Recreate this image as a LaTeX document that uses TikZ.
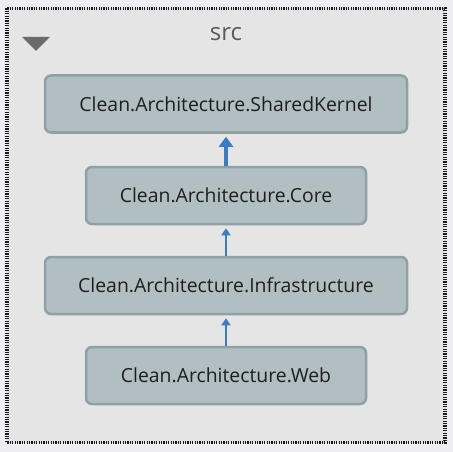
\documentclass[tikz,border=0pt]{standalone}
\usepackage{fontspec}
\setmainfont{Open Sans}
\usetikzlibrary{positioning,arrows.meta}
\definecolor{Canvas}{HTML}{EEEEF2}
\definecolor{GroupFill}{HTML}{E5E5E5}
\definecolor{GroupEdge}{HTML}{1A1A1A}
\definecolor{BoxFill}{HTML}{B1BFC3}
\definecolor{BoxEdge}{HTML}{8FA0A7}
\definecolor{DepBlue}{HTML}{3C7BBF}
\definecolor{Ink}{HTML}{1E1E1E}
\definecolor{Muted}{HTML}{5A5A5A}
\tikzset{
  project node/.style={draw=BoxEdge,line width=2.5pt,fill=BoxFill,rounded corners=6pt,
    align=center,minimum height=57pt,font=\fontsize{19.4}{22}\selectfont,
    text=Ink,inner sep=0pt},
  dep arrow/.style={-{Triangle[width=9pt,length=7pt]},line width=2pt,draw=DepBlue,shorten >=3pt},
  dep arrow strong/.style={dep arrow,-{Triangle[width=14pt,length=10pt]},line width=4pt}
}
\begin{document}
\begin{tikzpicture}[x=1pt,y=-1pt]
  \useasboundingbox (0,0) rectangle (453,452);
  \fill[Canvas] (0,0) rectangle (453,452);
  \draw[GroupEdge,fill=GroupFill,line width=3.5pt,dash pattern=on 1.2pt off 1.2pt] (7,8.5) rectangle (445,442.5);
  \fill[Muted!90] (22,37) -- (50,37) -- (36,51) -- cycle;
  \node[font=\fontsize{24}{27}\selectfont,text=Muted] (group) at (226,34) {src};
  \node[project node,minimum width=362pt] (shared) at (226,104) {Clean.Architecture.SharedKernel};
  \node[project node,minimum width=280pt] (core) at (226,195.5) {Clean.Architecture.Core};
  \node[project node,minimum width=362pt] (infra) at (226,285.5) {Clean.Architecture.Infrastructure};
  \node[project node,minimum width=280pt] (web) at (226,375.5) {Clean.Architecture.Web};
  \draw[dep arrow strong] (core) -- (shared);
  \draw[dep arrow] (infra) -- (core);
  \draw[dep arrow] (web) -- (infra);
\end{tikzpicture}
\end{document}
